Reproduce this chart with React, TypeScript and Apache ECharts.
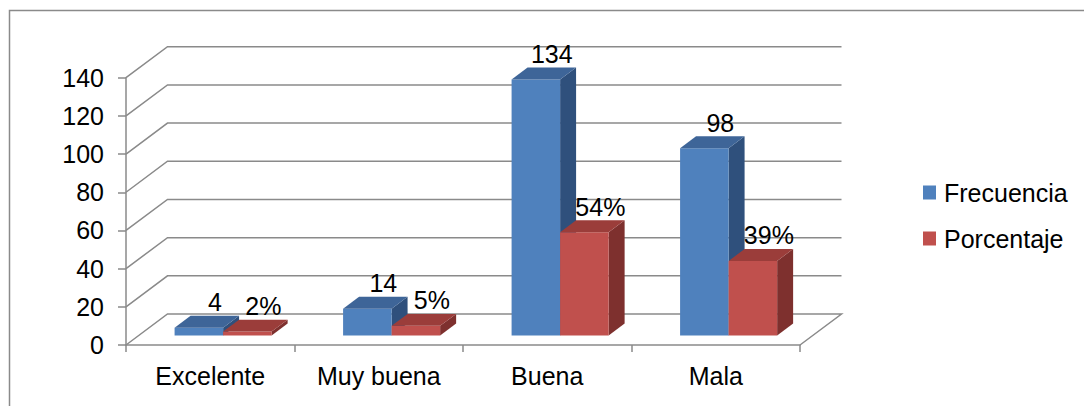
import React, { useEffect, useRef } from "react";
import * as echarts from "echarts";

const categories = ["Excelente", "Muy buena", "Buena", "Mala"];
const frecuencia = [4, 14, 134, 98];
const porcentaje = [2, 5, 54, 39];
const yTicks = [0, 20, 40, 60, 80, 100, 120, 140];
const seriesNames = ["Frecuencia", "Porcentaje"];

const FONT = "Liberation Sans, Arial, sans-serif";
const GRAY = "#8a8a8a";
const DX = 41.5;
const DY = 31;
const Z0 = 0.31;
const Z1 = 0.695;
const BAR_FRAC = 0.288;

const palettes = [
  { front: "#4F81BD", top: "#3E6598", side: "#2F507C" },
  { front: "#C0504D", top: "#9B3D3A", side: "#7E302E" },
];

function makeBarRender(idx: number, suffix: string) {
  const pal = palettes[idx];
  return (params: any, api: any) => {
    const cat = api.value(0);
    const val = api.value(1);
    const top = api.coord([cat, val]);
    const base = api.coord([cat, 0]);
    const cw = api.size([1, 0])[0];
    const bw = cw * BAR_FRAC;
    const cx = top[0];
    const left = idx === 0 ? cx - bw : cx;
    const ox = Z0 * DX;
    const oy = Z0 * DY;
    const dx = (Z1 - Z0) * DX;
    const dy = (Z1 - Z0) * DY;
    const fl = left + ox;
    const fr = left + bw + ox;
    const ft = top[1] - oy;
    const fb = base[1] - oy;
    return {
      type: "group",
      children: [
        {
          type: "polygon",
          shape: { points: [[fr, ft], [fr + dx, ft - dy], [fr + dx, fb - dy], [fr, fb]] },
          style: { fill: pal.side },
        },
        {
          type: "rect",
          shape: { x: fl, y: ft, width: bw, height: fb - ft },
          style: { fill: pal.front },
        },
        {
          type: "polygon",
          shape: { points: [[fl, ft], [fr, ft], [fr + dx, ft - dy], [fl + dx, ft - dy]] },
          style: { fill: pal.top },
        },
        {
          type: "text",
          style: {
            x: fl + bw / 2 + dx,
            y: ft - dy - 1,
            text: String(val) + suffix,
            fill: "#000",
            font: `25px ${FONT}`,
            align: "center",
            verticalAlign: "bottom",
          },
        },
      ],
    };
  };
}

function gridRender(params: any, api: any) {
  const v = api.value(1);
  const cs = params.coordSys;
  const y = api.coord([0, v])[1];
  const x0 = cs.x;
  const x1 = cs.x + cs.width;
  const pts: number[][] = [
    [x0, y],
    [x0 + DX, y - DY],
    [x1 + DX, y - DY],
  ];
  if (v === 0) pts.push([x1, y]);
  return {
    type: "polyline",
    shape: { points: pts },
    style: { stroke: GRAY, lineWidth: 1.5, fill: null },
  };
}

export default function App() {
  const ref = useRef<HTMLDivElement>(null);
  useEffect(() => {
    document.body.style.margin = "0";
    const chart = echarts.init(ref.current!, null, { renderer: "svg" });
    chart.setOption({
      animation: false,
      backgroundColor: "#fff",
      graphic: [
        {
          type: "rect",
          shape: { x: 9.5, y: 10.5, width: 1100, height: 420 },
          style: { fill: "none", stroke: GRAY, lineWidth: 1.5 },
          z: 0,
        },
      ],
      legend: {
        data: seriesNames,
        orient: "vertical",
        left: 918,
        top: 175,
        itemWidth: 13,
        itemHeight: 14,
        itemGap: 21,
        icon: "rect",
        textStyle: { fontSize: 25, fontFamily: FONT, color: "#000", padding: [0, 0, 0, 3] },
      },
      grid: { left: 126, right: 284, top: 77.7, bottom: 61, containLabel: false },
      xAxis: {
        type: "category",
        data: categories,
        boundaryGap: true,
        axisLine: { lineStyle: { color: GRAY, width: 1.5 } },
        axisTick: { show: true, length: 7, lineStyle: { color: GRAY, width: 1.5 } },
        axisLabel: { fontSize: 25, fontFamily: FONT, color: "#000", margin: 18 },
        splitLine: { show: false },
      },
      yAxis: {
        type: "value",
        min: 0,
        max: 140,
        interval: 20,
        axisLine: { show: true, lineStyle: { color: GRAY, width: 1.5 } },
        axisTick: { show: true, length: 8, lineStyle: { color: GRAY, width: 1.5 } },
        axisLabel: { fontSize: 25, fontFamily: FONT, color: "#000", margin: 22 },
        splitLine: { show: false },
      },
      series: [
        {
          type: "custom",
          name: "grid3d",
          renderItem: gridRender,
          data: yTicks.map((v) => [0, v]),
          encode: { x: 0, y: 1 },
          silent: true,
          z: 1,
        },
        {
          type: "custom",
          name: seriesNames[0],
          renderItem: makeBarRender(0, ""),
          data: frecuencia.map((v, i) => [i, v]),
          encode: { x: 0, y: 1 },
          itemStyle: { color: palettes[0].front },
          z: 2,
        },
        {
          type: "custom",
          name: seriesNames[1],
          renderItem: makeBarRender(1, "%"),
          data: porcentaje.map((v, i) => [i, v]),
          encode: { x: 0, y: 1 },
          itemStyle: { color: palettes[1].front },
          z: 3,
        },
      ],
    });
    return () => chart.dispose();
  }, []);
  return (
    <div
      ref={ref}
      style={{ position: "absolute", left: 0, top: 0, width: 1084, height: 406 }}
    />
  );
}
